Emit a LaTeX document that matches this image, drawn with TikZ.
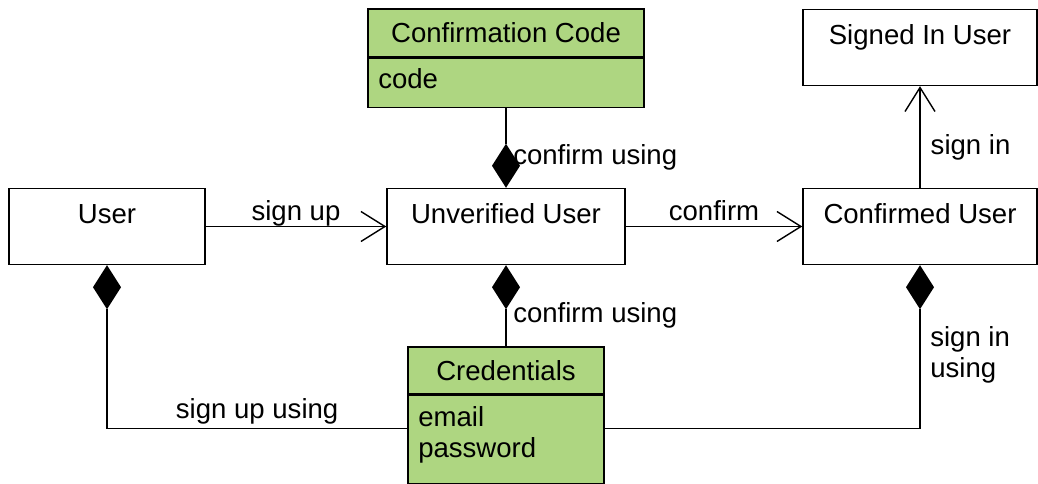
\documentclass[tikz,border=0pt]{standalone}
\usepackage{fontspec}
\setmainfont{Liberation Sans}
\usepackage{xcolor}
\usepackage{tikz}
\usetikzlibrary{positioning}
\usetikzlibrary{shapes,arrows.meta}
\definecolor{classgreen}{RGB}{174,214,129}
\tikzstyle{statebox} = [rectangle, draw, line width=1pt, inner sep=0pt, text height=0.875cm, text depth=1.025cm]
\tikzstyle{classhead} = [rectangle, draw, line width=1pt, fill=classgreen, inner sep=0pt]
\tikzstyle{classbody} = [rectangle, draw, line width=1pt, fill=classgreen, inner sep=0pt]
\tikzstyle{attr} = [inner sep=0pt, align=left, anchor=north west]
\tikzstyle{comp} = [diamond, fill=black, inner sep=0pt, outer sep=0pt, minimum width=0.7cm, minimum height=1.1cm]
\tikzstyle{lbl} = [inner sep=0pt]
\tikzstyle{assoc} = [draw, line width=1pt, -{Straight Barb[length=0.6cm,width=0.75cm]}]
\tikzstyle{link} = [draw, line width=1pt]

\begin{document}
\begin{tikzpicture}[x=0.025cm, y=-0.025cm, font=\fontsize{19.6}{22.5}\selectfont]

\useasboundingbox (0,0) rectangle (1038,484);

\node [statebox, minimum width=4.9cm] at (107,226.5) (user) {User};
\node [statebox, minimum width=5.95cm] at (506,226.5) (unverified) {Unverified User};
\node [statebox, minimum width=5.85cm] at (920,226.5) (confirmed) {Confirmed User};
\node [statebox, minimum width=5.85cm] at (920,47.5) (signedin) {Signed In User};

\node [classhead, minimum width=6.9cm, minimum height=1.2cm] at (506,33) (cchead) {Confirmation Code};
\node [classbody, minimum width=6.9cm, minimum height=1.225cm, below=0pt of cchead] (ccbody) {};
\node [attr] at (378,68) (codeattr) {code};

\node [classhead, minimum width=4.9cm, minimum height=1.175cm] at (506,370.5) (credhead) {Credentials};
\node [classbody, minimum width=4.9cm, minimum height=2.2cm, below=0pt of credhead] (credbody) {};
\node [attr] at (418,406) (credattr) {email\\password};

\node [comp, above=0pt of unverified] (d1) {};
\node [comp, below=0pt of unverified] (d2) {};
\node [comp, below=0pt of user] (d3) {};
\node [comp, below=0pt of confirmed] (d4) {};

\path [assoc] (user) -- node [lbl, midway, anchor=base, yshift=0.15cm] {sign up} (unverified);
\path [assoc] (unverified) -- node [lbl, midway, anchor=base, yshift=0.15cm] {confirm} (confirmed);
\path [assoc] (confirmed) -- node [lbl, pos=0.4, right=0.25cm] {sign in} (signedin);

\path [link] (ccbody) to (d1);
\path [link] (d2) to (credhead);
\path [link] ([yshift=0.275cm]credbody.west) -| node [lbl, pos=0.25, anchor=base, yshift=0.25cm] {sign up using} (d3);
\path [link] ([yshift=0.275cm]credbody.east) -| (d4);

%% annotations

\node [lbl, anchor=base west] at (513,165) (cclabel) {confirm using};
\node [lbl, anchor=base west] at (513,323) (credlabel) {confirm using};
\node [lbl, align=left, anchor=north west] at (930,326) (signinlabel) {sign in\\using};

\end{tikzpicture}
\end{document}
